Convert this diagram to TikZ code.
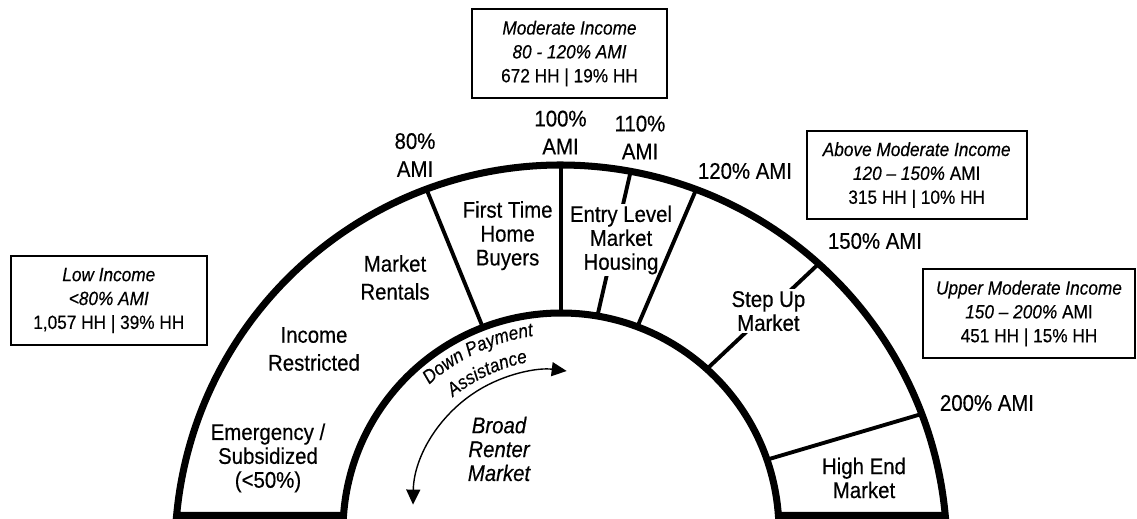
\documentclass[tikz,border=0pt]{standalone}
\usepackage{fontspec}
\setmainfont[FakeStretch=0.9, FakeBold=0.4]{Liberation Sans}
\usetikzlibrary{arrows.meta, decorations.text}

\begin{document}
\begin{tikzpicture}[x=0.02cm, y=0.02cm,
	rim/.style = {line width=4pt, line join=miter},
	divider/.style = {line width=2.2pt},
	lbl/.style = {align=center, inner sep=1pt, font=\fontsize{12.9}{13.6}\selectfont},
	ami/.style = {lbl, font=\fontsize{12.9}{15.9}\selectfont},
	box/.style = {draw, line width=1pt, align=center, minimum height=1.77cm, font=\fontsize{10.9}{13.6}\selectfont},
	arr/.style = {line width=0.8pt, {Triangle[length=3mm, width=2.8mm]}-{Triangle[length=3mm, width=2.8mm]}}]
	\useasboundingbox (0,0) rectangle (1137,519);
	\coordinate (oc) at (561,-32);
	\coordinate (ic) at (561,-12);
	\coordinate (ac) at (550,12);
	\foreach \n/\a/\b in {80/110.4/111, 100/90/90, 110/79.6/80.4, 120/69.5/69.5, 150/48.1/48, 200/20.8/19.1} {
		\path (oc) +(\a:386) coordinate (o\n);
		\path (ic) +(\b:218) coordinate (i\n);
	}
	\draw[rim] (176.6,3.5) arc[start angle=174.72, end angle=5.28, radius=386] -- (778.4,3.5) arc[start angle=4.08, end angle=175.92, radius=218] -- cycle;
	\draw[divider] (o80) -- (i80);
	\draw[divider] (o100) -- (i100);
	\draw[divider] (o110) -- (i110);
	\node[lbl, fill=white] (entry) at (621,279) {Entry Level\\Market\\Housing};
	\draw[divider] (o120) -- (i120);
	\draw[divider] (o150) -- node[lbl, fill=white, pos=0.45] (stepup) {Step Up\\Market} (i150);
	\draw[divider] (o200) -- (i200);
	\node[ami] (l80) at (415,364) {80\%\\AMI};
	\node[ami] (l100) at (560.5,386.5) {100\%\\AMI};
	\node[ami] (l110) at (640,381.5) {110\%\\AMI};
	\node[lbl] (l120) at (745,348) {120\% AMI};
	\node[lbl] (l150) at (875,278) {150\% AMI};
	\node[lbl] (l200) at (987,116) {200\% AMI};
	\node[ami] (rentals) at (395,241.5) {Market\\Rentals};
	\node[ami] (restricted) at (314,170) {Income\\Restricted};
	\node[lbl] (emergency) at (268,61) {Emergency /\\Subsidized\\(<50\%)};
	\node[lbl] (firsttime) at (507.6,283.3) {First Time\\Home\\Buyers};
	\node[lbl] (highend) at (864,41) {High End\\Market};
	\node[lbl, font=\itshape\fontsize{12.9}{13.6}\selectfont] (broad) at (499,70) {Broad\\Renter\\Market};
	\node[box, minimum width=3.92cm] (low) at (108.8,218.5) {\textit{Low Income}\\\textit{<80\% AMI}\\1,057 HH | 39\% HH};
	\node[box, minimum width=3.9cm] (moderate) at (569.5,465.5) {\textit{Moderate Income}\\\textit{80 - 120\% AMI}\\672 HH | 19\% HH};
	\node[box, minimum width=4.4cm] (abovemod) at (916.7,344) {\textit{Above Moderate Income}\\\textit{120 – 150\%} AMI\\315 HH | 10\% HH};
	\node[box, minimum width=4.24cm] (uppermod) at (1029,205.5) {\textit{Upper Moderate Income}\\\textit{150 – 200\%} AMI\\451 HH | 15\% HH};
	\path[decorate, decoration={text along path, text align=center, text={|\itshape\fontsize{10.9}{12}\selectfont|Down Payment}}] (ic) ++(150:197) arc[start angle=150, end angle=80, radius=197];
	\path[decorate, decoration={text along path, text align=center, text={|\itshape\fontsize{10.9}{12}\selectfont|Assistance}}] (ic) ++(150:172) arc[start angle=150, end angle=80, radius=172];
	\draw[arr] (ac) ++(179:137) arc[start angle=179, end angle=83, radius=137];
\end{tikzpicture}
\end{document}
